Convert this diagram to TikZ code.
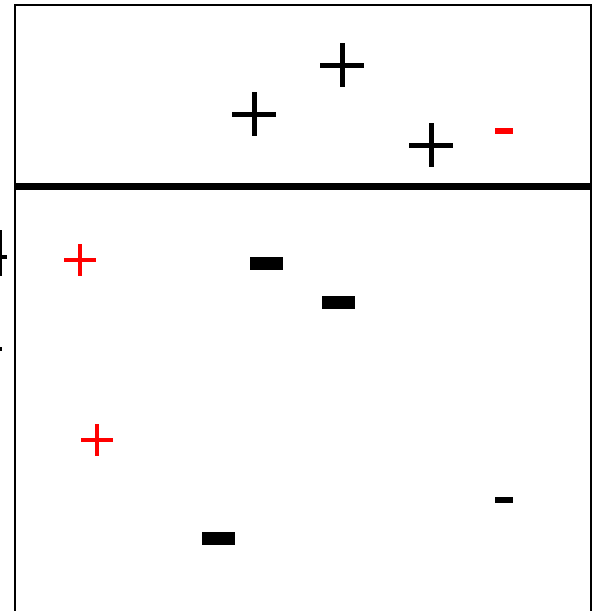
\documentclass[tikz,border=0pt]{standalone}
\usepackage{tikz}
\usetikzlibrary{positioning}
\begin{document}
\begin{tikzpicture}[
  x=1pt,y=-1pt,
  bigplus/.style={minimum size=44pt,inner sep=0pt,path picture={
      \draw[line width=5pt] (path picture bounding box.west)--(path picture bounding box.east)
        (path picture bounding box.north)--(path picture bounding box.south);}},
  redplus/.style={minimum size=32pt,inner sep=0pt,path picture={
      \draw[red,line width=3.5pt] (path picture bounding box.west)--(path picture bounding box.east)
        (path picture bounding box.north)--(path picture bounding box.south);}},
  bigminus/.style={fill=black,inner sep=0pt,minimum width=33pt,minimum height=13pt},
  smallminus/.style={fill=#1,inner sep=0pt,minimum width=18pt,minimum height=6pt},
  frameline/.style={line width=2.5pt},
]
\useasboundingbox (0,0) rectangle (599,611);
\clip (0,0) rectangle (599,611);
% frame
\draw[frameline] (15,612) -- (15,5) -- (591,5) -- (591,612);
\draw[line width=7pt] (15,186) -- (591,186);
% upper part
\node[bigplus] (pa) at (254,114) {};
\node[bigplus] (pb) at (342,65) {};
\node[bigplus] (pc) at (431,145) {};
\node[smallminus=red] (ma) at (504,131) {};
% lower part
\node[redplus] (pd) at (80,260) {};
\node[redplus] (pe) at (97,440) {};
\node[bigminus] (mb) at (266,263) {};
\node[bigminus] (mc) at (338,302) {};
\node[bigminus] (md) at (218,538) {};
\node[smallminus=black] (me) at (504,500) {};
% cut-off marks on the left edge
\draw[line width=2pt] (1,230) -- (1,276);
\draw[line width=4.5pt] (0,257) -- (7,257);
\draw[line width=4pt] (0,349) -- (2,349);
\end{tikzpicture}
\end{document}
